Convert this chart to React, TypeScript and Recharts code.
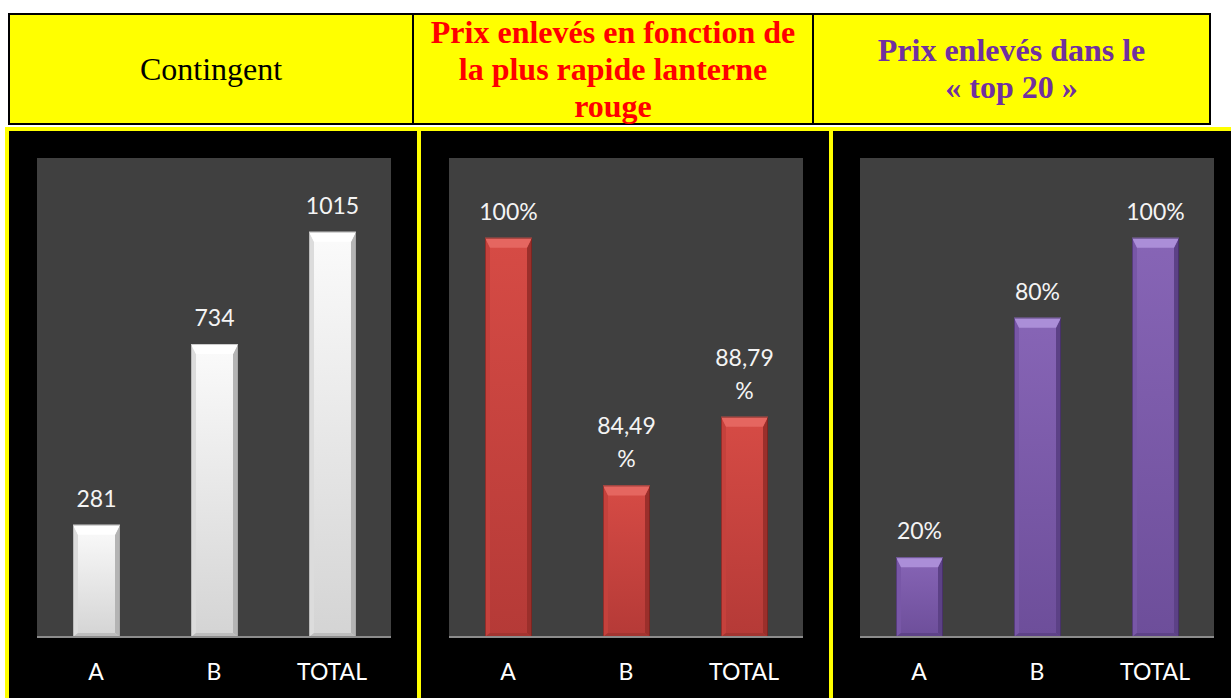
import React from 'react';
import { BarChart, Bar, XAxis, YAxis, CartesianGrid, LabelList } from 'recharts';

const categories = ['A', 'B', 'TOTAL'];
const contingentValues = [281, 734, 1015];
const lanterneValues = [100, 84.49, 88.79];
const top20Values = [20, 80, 100];

const contingentDomain = [0, 1200];
const lanterneDomain = [75, 105];
const top20Domain = [0, 120];

type Palette = {
  top: string; mainTop: string; mainBottom: string; left: string; right: string; bottom: string; edge: string;
};

const whitePal: Palette = { top: '#ffffff', mainTop: '#fbfbfb', mainBottom: '#d4d4d4', left: '#dcdcdc', right: '#b4b4b4', bottom: '#bdbdbd', edge: '#9a9a9a' };
const redPal: Palette = { top: '#e56660', mainTop: '#d64b45', mainBottom: '#b53a37', left: '#c5413c', right: '#9b2f2b', bottom: '#a33430', edge: '#5e1b18' };
const purplePal: Palette = { top: '#ab8ed8', mainTop: '#8765b6', mainBottom: '#6d4e9a', left: '#7857a7', right: '#5c4186', bottom: '#5e4388', edge: '#34224f' };

const makeShape = (pal: Palette, id: string) => (props: any) => {
  const { x, y, width: w, height: h, index } = props;
  if (h <= 0) return <g />;
  const bt = 10, bs = 5, bb = 4;
  const gid = `g-${id}-${index}`;
  return (
    <g>
      <defs>
        <linearGradient id={gid} x1="0" y1="0" x2="0" y2="1">
          <stop offset="0%" stopColor={pal.mainTop} />
          <stop offset="100%" stopColor={pal.mainBottom} />
        </linearGradient>
      </defs>
      <rect x={x} y={y} width={w} height={h} fill={`url(#${gid})`} />
      <polygon points={`${x},${y} ${x + bs},${y + bt} ${x + bs},${y + h - bb} ${x},${y + h}`} fill={pal.left} />
      <polygon points={`${x + w},${y} ${x + w - bs},${y + bt} ${x + w - bs},${y + h - bb} ${x + w},${y + h}`} fill={pal.right} />
      <polygon points={`${x},${y + h} ${x + bs},${y + h - bb} ${x + w - bs},${y + h - bb} ${x + w},${y + h}`} fill={pal.bottom} />
      <polygon points={`${x},${y} ${x + w},${y} ${x + w - bs},${y + bt} ${x + bs},${y + bt}`} fill={pal.top} />
      <rect x={x + 0.5} y={y + 0.5} width={w - 1} height={h - 1} fill="none" stroke={pal.edge} strokeOpacity={0.5} strokeWidth={1} />
    </g>
  );
};

const makeLabel = (fmt: (v: number) => string) => (props: any) => {
  const { x, y, width, value } = props;
  const lines = fmt(value).split('\n');
  const cx = x + width / 2;
  const lh = 33;
  const baseY = y - 18;
  return (
    <text x={cx} textAnchor="middle" fill="#f4f4f4" fontFamily="Lato, 'Noto Sans', sans-serif" fontSize={23}>
      {lines.map((l, i) => (
        <tspan key={i} x={cx} y={baseY - (lines.length - 1 - i) * lh}>{l}</tspan>
      ))}
    </text>
  );
};

const Tick = (props: any) => {
  const { x, y, payload } = props;
  return (
    <text x={x} y={y + 43} textAnchor="middle" fill="#ffffff" fontFamily="Lato, 'Noto Sans', sans-serif" fontSize={23}>
      {payload.value}
    </text>
  );
};

const PLOT_W = 354;
const ML = 28;

function Panel(props: { plotLeft: number; values: number[]; domain: number[]; pal: Palette; id: string; fmt: (v: number) => string }) {
  const data = categories.map((c, i) => ({ name: c, value: props.values[i] }));
  const top = 132;
  const height = 566;
  return (
    <div style={{ position: 'absolute', left: props.plotLeft - ML, top }}>
      <BarChart width={PLOT_W + ML * 2} height={height} data={data} margin={{ top: 26, right: ML, left: ML, bottom: 0 }} barSize={47}>
        <CartesianGrid fill="#404040" stroke="none" horizontal={false} vertical={false} />
        <XAxis dataKey="name" height={61} tickLine={false} tickSize={0} tickMargin={0} axisLine={{ stroke: '#8c8c8c', strokeWidth: 2 }} tick={<Tick />} interval={0} />
        <YAxis hide domain={props.domain} allowDataOverflow />
        <Bar dataKey="value" isAnimationActive={false} shape={makeShape(props.pal, props.id)}>
          <LabelList dataKey="value" content={makeLabel(props.fmt)} />
        </Bar>
      </BarChart>
    </div>
  );
}

const fmtInt = (v: number) => String(v);
const fmtLanterne = (v: number) => (Number.isInteger(v) ? `${v}%` : `${v.toFixed(2).replace('.', ',')}\n%`);
const fmtPct = (v: number) => `${v}%`;

const cellBase: React.CSSProperties = {
  position: 'absolute', top: 13, height: 112, boxSizing: 'border-box', display: 'flex', alignItems: 'center',
  justifyContent: 'center', textAlign: 'center', fontFamily: "'Liberation Serif', 'Times New Roman', serif",
  fontSize: 32, lineHeight: '37px', background: '#ffff00', border: '2px solid #000',
};

export default function App() {
  return (
    <div style={{ position: 'absolute', left: 0, top: 0, width: 1231, height: 698, overflow: 'hidden', background: '#ffffff' }}>
      <div style={{ ...cellBase, left: 8, width: 406, color: '#000' }}>Contingent</div>
      <div style={{ ...cellBase, left: 412, width: 402, color: '#ff0000', fontWeight: 'bold' }}>
        <div>Prix enlevés en fonction de<br />la plus rapide lanterne<br />rouge</div>
      </div>
      <div style={{ ...cellBase, left: 812, width: 399, color: '#7030a0', fontWeight: 'bold' }}>
        <div>Prix enlevés dans le<br />« top 20 »</div>
      </div>

      <div style={{ position: 'absolute', left: 5, top: 127, width: 416, height: 600, boxSizing: 'border-box', background: '#000', border: '4px solid #ffff00' }} />
      <div style={{ position: 'absolute', left: 417, top: 127, width: 416, height: 600, boxSizing: 'border-box', background: '#000', border: '4px solid #ffff00' }} />
      <div style={{ position: 'absolute', left: 829, top: 127, width: 420, height: 600, boxSizing: 'border-box', background: '#000', border: '4px solid #ffff00' }} />

      <Panel plotLeft={37} values={contingentValues} domain={contingentDomain} pal={whitePal} id="c" fmt={fmtInt} />
      <Panel plotLeft={449} values={lanterneValues} domain={lanterneDomain} pal={redPal} id="l" fmt={fmtLanterne} />
      <Panel plotLeft={860} values={top20Values} domain={top20Domain} pal={purplePal} id="t" fmt={fmtPct} />
    </div>
  );
}
